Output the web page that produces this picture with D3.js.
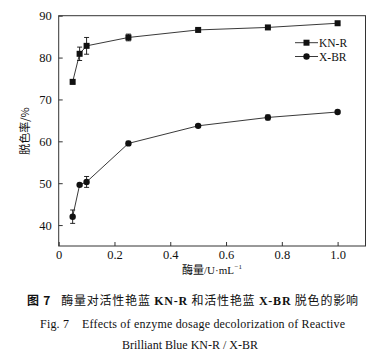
<!DOCTYPE html>
<html><head><meta charset="utf-8">
<script src="https://cdn.jsdelivr.net/npm/d3@7"></script>
<style>
body{margin:0;background:#fff;}
svg{display:block;}
text{font-family:"Liberation Serif","DejaVu Serif",serif;fill:#111;}
.cjk{font-family:"Noto Sans CJK SC","Liberation Serif",serif;}
</style></head>
<body><svg id="c" width="380" height="356"></svg>
<script>
const dosage = [0.05, 0.075, 0.1, 0.25, 0.5, 0.75, 1.0];
const knr = [74.2, 80.9, 82.8, 84.8, 86.6, 87.2, 88.2];
const knrErr = [0.5, 1.6, 2.0, 0.8, 0.3, 0.3, 0.3];
const xbr = [42.0, 49.6, 50.3, 59.5, 63.7, 65.7, 67.0];
const xbrErr = [1.6, 0.3, 1.3, 0.5, 0.3, 0.6, 0.3];
const xTicks = [0, 0.2, 0.4, 0.6, 0.8, 1.0];
const yTicks = [40, 50, 60, 70, 80, 90];
const seriesNames = ["KN-R", "X-BR"];

const svg = d3.select("#c");
const L = 58.7, R = 365.5, T = 15.7, B = 246;
const x = d3.scaleLinear().domain([0, 1.1]).range([L, R]);
const y = d3.scaleLinear().domain([35, 90]).range([B, T]);

svg.append("rect").attr("x", L).attr("y", T).attr("width", R - L).attr("height", B - T)
  .attr("fill", "none").attr("stroke", "#333").attr("stroke-width", 1);

const xa = svg.append("g").attr("transform", `translate(0,${B})`)
  .call(d3.axisBottom(x).tickValues(xTicks).tickSize(-4).tickPadding(4)
    .tickFormat(d => d === 0 ? "0" : d3.format(".1f")(d)));
const ya = svg.append("g").attr("transform", `translate(${L},0)`)
  .call(d3.axisLeft(y).tickValues(yTicks).tickSize(-4).tickPadding(7).tickFormat(d3.format("d")));
[xa, ya].forEach(g => {
  g.select(".domain").remove();
  g.selectAll("line").attr("stroke", "#333");
  g.selectAll("text").attr("font-size", 12.5).attr("font-family", "Liberation Serif, serif").attr("fill", "#111");
});

function drawSeries(vals, errs, shape) {
  const pts = dosage.map((d, i) => ({x: d, y: vals[i], e: errs[i]}));
  svg.append("path").datum(pts).attr("fill", "none").attr("stroke", "#222").attr("stroke-width", 0.9)
    .attr("d", d3.line().x(d => x(d.x)).y(d => y(d.y)));
  const g = svg.append("g");
  pts.forEach(p => {
    const cx = x(p.x), y1 = y(p.y + p.e), y2 = y(p.y - p.e);
    g.append("line").attr("x1", cx).attr("x2", cx).attr("y1", y1).attr("y2", y2).attr("stroke", "#111").attr("stroke-width", 0.9);
    g.append("line").attr("x1", cx - 2.5).attr("x2", cx + 2.5).attr("y1", y1).attr("y2", y1).attr("stroke", "#111").attr("stroke-width", 0.9);
    g.append("line").attr("x1", cx - 2.5).attr("x2", cx + 2.5).attr("y1", y2).attr("y2", y2).attr("stroke", "#111").attr("stroke-width", 0.9);
    if (shape === "square") {
      g.append("rect").attr("x", cx - 3).attr("y", y(p.y) - 3).attr("width", 6).attr("height", 6).attr("fill", "#111");
    } else {
      g.append("circle").attr("cx", cx).attr("cy", y(p.y)).attr("r", 3.2).attr("fill", "#111");
    }
  });
}
drawSeries(knr, knrErr, "square");
drawSeries(xbr, xbrErr, "circle");

// legend
const lg = svg.append("g");
[["square", 42.7], ["circle", 56.5]].forEach(([s, ly], i) => {
  lg.append("line").attr("x1", 295).attr("x2", 318).attr("y1", ly).attr("y2", ly).attr("stroke", "#222").attr("stroke-width", 0.9);
  if (s === "square") lg.append("rect").attr("x", 303.5).attr("y", ly - 3).attr("width", 6).attr("height", 6).attr("fill", "#111");
  else lg.append("circle").attr("cx", 306.5).attr("cy", ly).attr("r", 3.2).attr("fill", "#111");
  lg.append("text").attr("x", 319).attr("y", ly + 4).attr("font-size", 11.5).text(seriesNames[i]);
});

// x axis title
const xt = svg.append("text").attr("x", 182).attr("y", 274).attr("font-size", 11);
xt.append("tspan").attr("class", "cjk").text("酶量");
xt.append("tspan").text("/U·mL");
const xtw = xt.node().getComputedTextLength();
svg.append("text").attr("x", 182 + xtw + 0.5).attr("y", 269).attr("font-size", 7).text("−1");

svg.append("text").attr("class", "cjk").attr("transform", "translate(29,131) rotate(-90)")
  .attr("text-anchor", "middle").attr("font-size", 11).text("脱色率/%");

// captions
const c1 = svg.append("text").attr("x", 27).attr("y", 305).attr("font-size", 12)
  .attr("textLength", 331).attr("lengthAdjust", "spacing");
c1.append("tspan").attr("class", "cjk").attr("font-weight", "bold").text("图 7");
c1.append("tspan").attr("class", "cjk").attr("dx", 10).text("酶量对活性艳蓝 ");
c1.append("tspan").attr("font-weight", "bold").text("KN-R");
c1.append("tspan").attr("class", "cjk").text(" 和活性艳蓝 ");
c1.append("tspan").attr("font-weight", "bold").text("X-BR");
c1.append("tspan").attr("class", "cjk").text(" 脱色的影响");

svg.append("text").attr("x", 40).attr("y", 328).attr("font-size", 12)
  .attr("textLength", 305).attr("lengthAdjust", "spacing")
  .attr("xml:space", "preserve").text("Fig. 7    Effects of enzyme dosage decolorization of Reactive");
svg.append("text").attr("x", 122).attr("y", 349).attr("font-size", 12)
  .attr("textLength", 136).attr("lengthAdjust", "spacing")
  .text("Brilliant Blue KN-R / X-BR");
</script></body></html>
